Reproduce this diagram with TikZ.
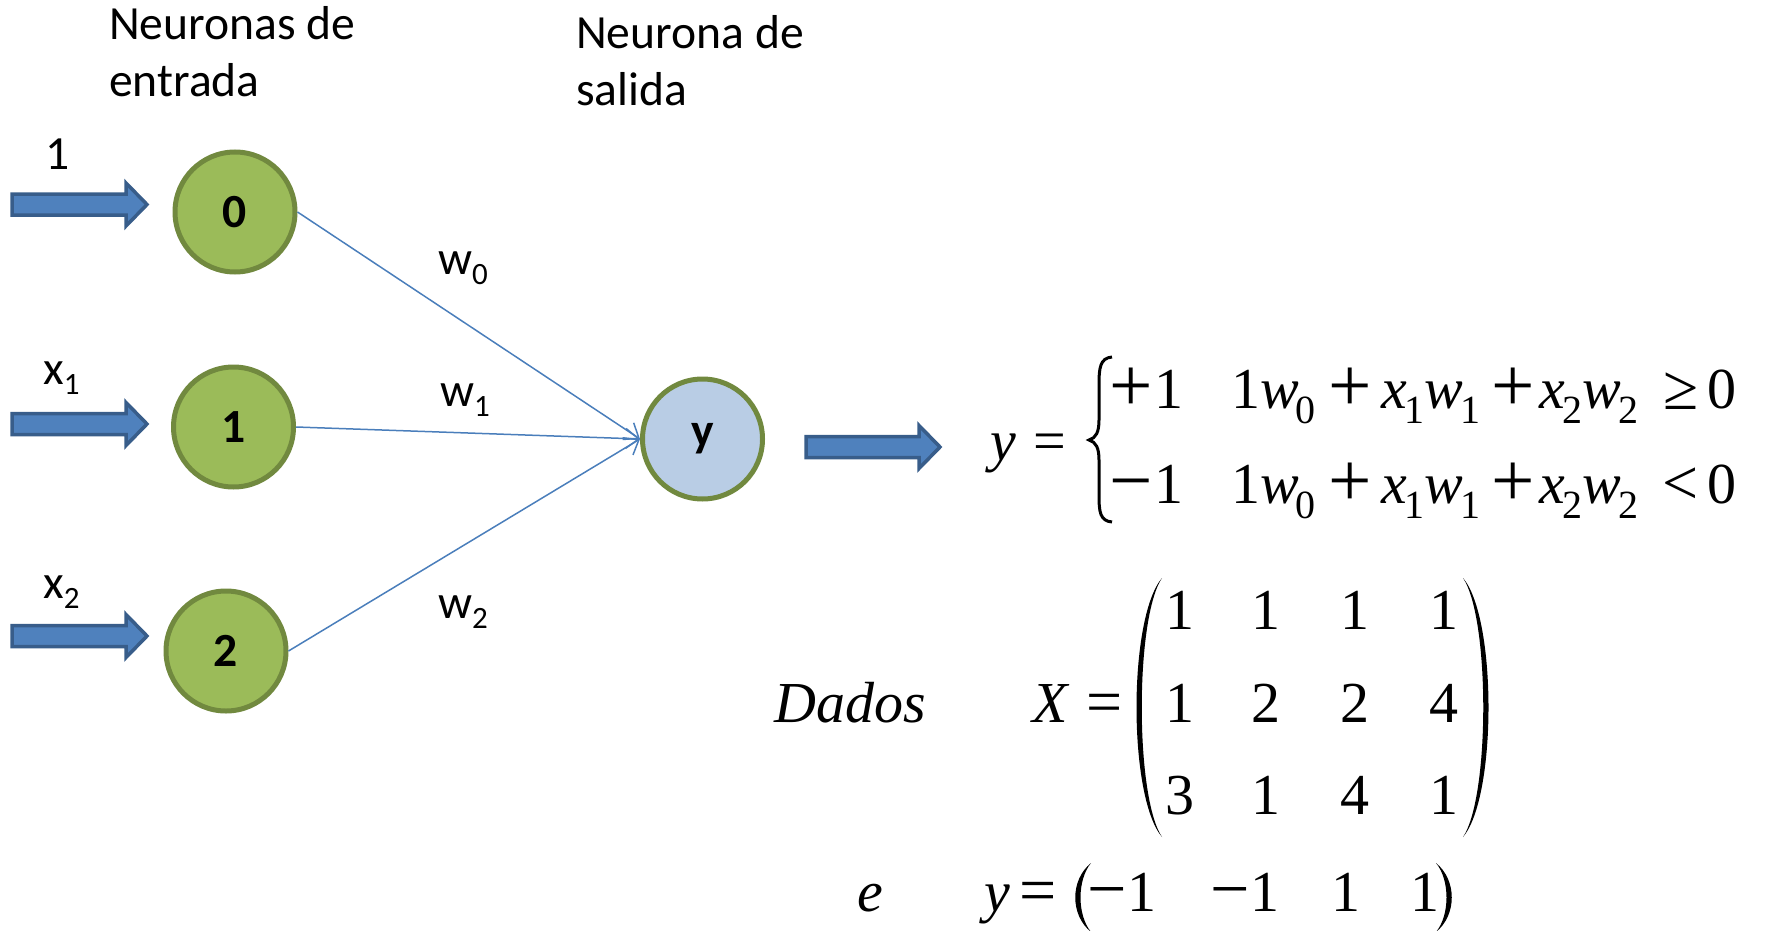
\documentclass[tikz,border=0pt]{standalone}
\usepackage{fontspec}
\setmainfont{Carlito}
\newfontfamily\tnr{Liberation Serif}
\usetikzlibrary{arrows.meta}
\definecolor{gfill}{HTML}{9BBB59}
\definecolor{gline}{HTML}{71893F}
\definecolor{bfill}{HTML}{B9CDE5}
\definecolor{afill}{HTML}{4F81BD}
\definecolor{aline}{HTML}{385D8A}
\definecolor{cline}{HTML}{4A7EBB}
\newcommand\lblfont{\fontsize{47.6}{57}\selectfont}
\newcommand\eqfont{\tnr\fontsize{58}{70}\selectfont}
\newcommand\lsub[1]{\raisebox{-10pt}{\fontsize{31}{31}\selectfont #1}}
\newcommand\esub[1]{\raisebox{-15pt}{\fontsize{40}{40}\selectfont #1}}
\newcommand\bigop[1]{\raisebox{-3pt}{\fontsize{77}{77}\selectfont #1}}
\newcommand\relop[2]{\raisebox{-1pt}{\fontsize{#1}{#1}\selectfont #2}}
\newcommand\barrow[3]{%
  \fill[afill,draw=aline,line width=3.5pt,line join=miter]
    (#1,#3-10.5) -- (#2-21,#3-10.5) -- (#2-21,#3-21.5) -- (#2,#3)
    -- (#2-21,#3+21.5) -- (#2-21,#3+10.5) -- (#1,#3+10.5) -- cycle;}
\tikzset{
  neuron/.style={circle,draw=gline,line width=5pt,minimum size=120pt,inner sep=0pt,font=\lblfont\bfseries},
  inneuron/.style={neuron,fill=gfill},
  outneuron/.style={neuron,fill=bfill},
  lbl/.style={inner sep=0pt,anchor=base west,font=\lblfont},
  eq/.style={inner sep=0pt,anchor=base west,font=\eqfont},
  eqc/.style={inner sep=0pt,anchor=base,font=\eqfont},
  conn/.style={draw=cline,line width=1.5pt,-{Straight Barb[length=13pt,width=20pt,line width=1.5pt]}},
  delim/.style={fill=black}
}
\begin{document}
\begin{tikzpicture}[x=1pt,y=-1pt]
\useasboundingbox (0,0) rectangle (1769,931);
% titles
\node[lbl] (tin1) at (109,39.5) {Neuronas de};
\node[lbl] (tin2) at (109,97) {entrada};
\node[lbl] (tout1) at (576,48.5) {Neurona de};
\node[lbl] (tout2) at (576,106) {salida};
% input labels
\node[lbl] (l0) at (45,169) {1};
\node[lbl] (l1) at (43,384) {x\lsub{1}};
\node[lbl] (l2) at (43,598) {x\lsub{2}};
% input arrows
\barrow{12}{147}{204.5}
\barrow{12}{147}{424}
\barrow{12}{147}{636}
% neurons
\node[inneuron] (c0) at (235,212) {0};
\node[inneuron] (c1) at (233.5,427) {1};
\node[inneuron] (c2) at (226,651) {2};
\node[outneuron] (y) at (702.5,439) {y};
% connectors
\draw[conn] (c0.east) -- (y.west);
\draw[conn] (c1.east) -- (y.west);
\draw[conn] (c2.east) -- (y.west);
% weights
\node[lbl] (w0) at (438,274) {w\lsub{0}};
\node[lbl] (w1) at (440,406) {w\lsub{1}};
\node[lbl] (w2) at (438,618) {w\lsub{2}};
% output arrow
\barrow{806}{940}{447}
% piecewise
\node[eq] (ylhs) at (990,460) {\textit{y}};
\node[eqc] (yeq) at (1050,460) {=};
\draw[line width=3pt] (1112,357) .. controls (1100,358) and (1099,368) .. (1099,385) -- (1099,420)
   .. controls (1099,432) and (1096,438) .. (1089,440)
   .. controls (1096,442) and (1099,448) .. (1099,460) -- (1099,495)
   .. controls (1099,512) and (1100,521) .. (1112,522);
\foreach \r/\yy/\s/\rel in {1/408/+/≥, 2/503/−/<}{
  \node[eqc] (r\r s) at (1131.5,\yy) {\bigop{\s}};
  \node[eq] (r\r o) at (1154,\yy) {1};
  \node[eq] (r\r a) at (1231,\yy) {1\textit{w}\kern-3pt\esub{0}};
  \node[eqc] (r\r p1) at (1350,\yy) {\bigop{+}};
  \node[eq] (r\r b) at (1381,\yy) {\textit{x}\kern-2pt\esub{1}\textit{w}\kern-3pt\esub{1}};
  \node[eqc] (r\r p2) at (1513,\yy) {\bigop{+}};
  \node[eq] (r\r c) at (1539,\yy) {\textit{x}\kern-2pt\esub{2}\textit{w}\kern-3pt\esub{2}};
  \node[eqc] (r\r r) at (1681,\yy) {\relop{64}{\rel}};
  \node[eq] (r\r z) at (1707,\yy) {0};
}
% data
\node[eq] (dados) at (774,722) {\textit{Dados}};
\node[eq] (xlhs) at (1032,722) {\textit{X}};
\node[eqc] (xeq) at (1105,722) {\relop{64}{=}};
\fill[delim] (1162,578) .. controls (1128,618) and (1128,797) .. (1162,837)
   .. controls (1135,797) and (1135,618) .. (1162,578) -- cycle;
\fill[delim] (1463,578) .. controls (1497,618) and (1497,797) .. (1463,837)
   .. controls (1490,797) and (1490,618) .. (1463,578) -- cycle;
\node[eqc] (m11) at (1180,629) {1};
\node[eqc] (m12) at (1266,629) {1};
\node[eqc] (m13) at (1355,629) {1};
\node[eqc] (m14) at (1444,629) {1};
\node[eqc] (m21) at (1180,722) {1};
\node[eqc] (m22) at (1266,722) {2};
\node[eqc] (m23) at (1355,722) {2};
\node[eqc] (m24) at (1444,722) {4};
\node[eqc] (m31) at (1180,814) {3};
\node[eqc] (m32) at (1266,814) {1};
\node[eqc] (m33) at (1355,814) {4};
\node[eqc] (m34) at (1444,814) {1};
% target vector
\node[eq] (e) at (857,911) {\textit{e}};
\node[eq] (ylhs2) at (984,911) {\textit{y}};
\node[eqc] (yeq2) at (1038,911) {\relop{66}{=}};
\fill[delim] (1091,863) .. controls (1070,880) and (1070,915) .. (1091,932)
   .. controls (1077,915) and (1077,880) .. (1091,863) -- cycle;
\fill[delim] (1436,863) .. controls (1457,880) and (1457,915) .. (1436,932)
   .. controls (1450,915) and (1450,880) .. (1436,863) -- cycle;
\node[eqc] (v1m) at (1107,911) {\relop{70}{−}};
\node[eq] (v1) at (1127,911) {1};
\node[eqc] (v2m) at (1230,911) {\relop{70}{−}};
\node[eq] (v2) at (1250,911) {1};
\node[eq] (v3) at (1331,911) {1};
\node[eq] (v4) at (1410,911) {1};
\end{tikzpicture}
\end{document}
